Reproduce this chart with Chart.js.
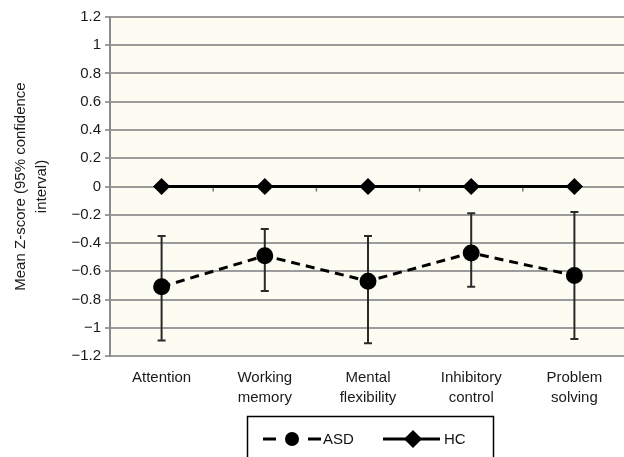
<!DOCTYPE html>
<html>
<head>
<meta charset="utf-8">
<script src="https://cdn.jsdelivr.net/npm/chart.js@4"></script>
<style>
  html, body { margin:0; padding:0; background:#fff; overflow:hidden; }
  .wrap { position:relative; width:636px; height:457px; }
</style>
</head>
<body>
<div class="wrap"><canvas id="c" width="636" height="457"></canvas></div>
<script>
// Daten
const categories = [['Attention'], ['Working', 'memory'], ['Mental', 'flexibility'], ['Inhibitory', 'control'], ['Problem', 'solving']];
const asdMean  = [-0.71, -0.49, -0.67, -0.47, -0.63];
const asdUpper = [-0.35, -0.30, -0.35, -0.19, -0.18];
const asdLower = [-1.09, -0.74, -1.11, -0.71, -1.08];
const hcMean   = [0, 0, 0, 0, 0];
const yTicks   = [1.2, 1, 0.8, 0.6, 0.4, 0.2, 0, -0.2, -0.4, -0.6, -0.8, -1, -1.2];

const FONT = 'Liberation Sans, Arial, sans-serif';
const fmt = v => String(Math.round(v * 10) / 10).replace('-', '\u2212');

// Hintergrund der Plotfläche
const bgPlugin = {
  id: 'plotBg',
  beforeDraw(c) {
    const {ctx, chartArea:{left, top, width, height}} = c;
    ctx.save();
    ctx.fillStyle = '#fdfcf2';
    ctx.fillRect(left, top, width, height);
    ctx.restore();
  }
};

// Fehlerbalken (95% KI) + kleine Teilstriche auf der Nulllinie
const errorBars = {
  id: 'errorBars',
  beforeDatasetsDraw(c) {
    const {ctx, scales:{x, y}} = c;
    ctx.save();
    const y0 = y.getPixelForValue(0);
    ctx.strokeStyle = '#777';
    ctx.lineWidth = 1.5;
    for (let i = 0; i < categories.length - 1; i++) {
      const bx = (x.getPixelForValue(i) + x.getPixelForValue(i + 1)) / 2;
      ctx.beginPath(); ctx.moveTo(bx, y0); ctx.lineTo(bx, y0 + 5); ctx.stroke();
    }
    ctx.strokeStyle = '#2a2a2a';
    ctx.lineWidth = 2;
    asdMean.forEach((m, i) => {
      const px = x.getPixelForValue(i);
      const yt = y.getPixelForValue(asdUpper[i]);
      const yb = y.getPixelForValue(asdLower[i]);
      ctx.beginPath();
      ctx.moveTo(px, yt); ctx.lineTo(px, yb);
      ctx.moveTo(px - 4, yt); ctx.lineTo(px + 4, yt);
      ctx.moveTo(px - 4, yb); ctx.lineTo(px + 4, yb);
      ctx.stroke();
    });
    ctx.restore();
  }
};

// Legende im Kasten unten
const boxLegend = {
  id: 'boxLegend',
  afterDraw(c) {
    const ctx = c.ctx;
    ctx.save();
    ctx.strokeStyle = '#000';
    ctx.lineWidth = 1.5;
    ctx.strokeRect(247.5, 416.5, 246, 60);
    const cy = 439;
    ctx.lineWidth = 3;
    ctx.strokeStyle = '#000';
    ctx.beginPath();
    ctx.moveTo(263, cy); ctx.lineTo(276, cy);
    ctx.moveTo(308, cy); ctx.lineTo(321, cy);
    ctx.stroke();
    ctx.fillStyle = '#000';
    ctx.beginPath(); ctx.arc(292, cy, 7, 0, Math.PI * 2); ctx.fill();
    ctx.beginPath();
    ctx.moveTo(383, cy); ctx.lineTo(440, cy);
    ctx.stroke();
    ctx.beginPath();
    ctx.moveTo(413, cy - 9); ctx.lineTo(422, cy); ctx.lineTo(413, cy + 9); ctx.lineTo(404, cy);
    ctx.closePath(); ctx.fill();
    ctx.font = '15px ' + FONT;
    ctx.textBaseline = 'middle';
    ctx.fillStyle = '#111';
    ctx.fillText('ASD', 323, cy + 1);
    ctx.fillText('HC', 444, cy + 1);
    ctx.restore();
  }
};

new Chart(document.getElementById('c'), {
  type: 'line',
  data: {
    labels: categories,
    datasets: [
      { label: 'ASD', data: asdMean, borderColor: '#000', backgroundColor: '#000', borderWidth: 3,
        borderDash: [9, 6], pointStyle: 'circle', pointRadius: 7, pointHoverRadius: 7, tension: 0 },
      { label: 'HC', data: hcMean, borderColor: '#000', backgroundColor: '#000', borderWidth: 3,
        pointStyle: 'rectRot', pointRadius: 6.5, pointHoverRadius: 6.5, tension: 0 }
    ]
  },
  options: {
    responsive: false, animation: false, devicePixelRatio: 1,
    layout: { padding: { top: 17, right: 2, bottom: 0, left: 0 } },
    plugins: { legend: { display: false }, tooltip: { enabled: false } },
    scales: {
      x: {
        offset: true,
        grid: { display: false },
        border: { display: false },
        ticks: { font: { family: FONT, size: 15, lineHeight: 1.33 }, color: '#1a1a1a', maxRotation: 0, autoSkip: false, padding: 4 },
        afterFit: s => { s.height = 101; }
      },
      y: {
        min: -1.2, max: 1.2,
        afterBuildTicks: s => { s.ticks = yTicks.map(v => ({ value: v })); },
        grid: { color: '#9c9c9c', lineWidth: 2, tickLength: 5 },
        border: { color: '#8a8a8a', width: 2 },
        ticks: { font: { family: FONT, size: 15 }, color: '#1a1a1a', padding: 4, callback: v => fmt(v) },
        title: { display: true, text: ['Mean Z-score (95% confidence', 'interval)'],
                 font: { family: FONT, size: 15, lineHeight: 1.4 }, color: '#1a1a1a', padding: { top: 10, bottom: 0 } },
        afterFit: s => { s.width = 110; }
      }
    }
  },
  plugins: [bgPlugin, errorBars, boxLegend]
});
</script>
</body>
</html>
